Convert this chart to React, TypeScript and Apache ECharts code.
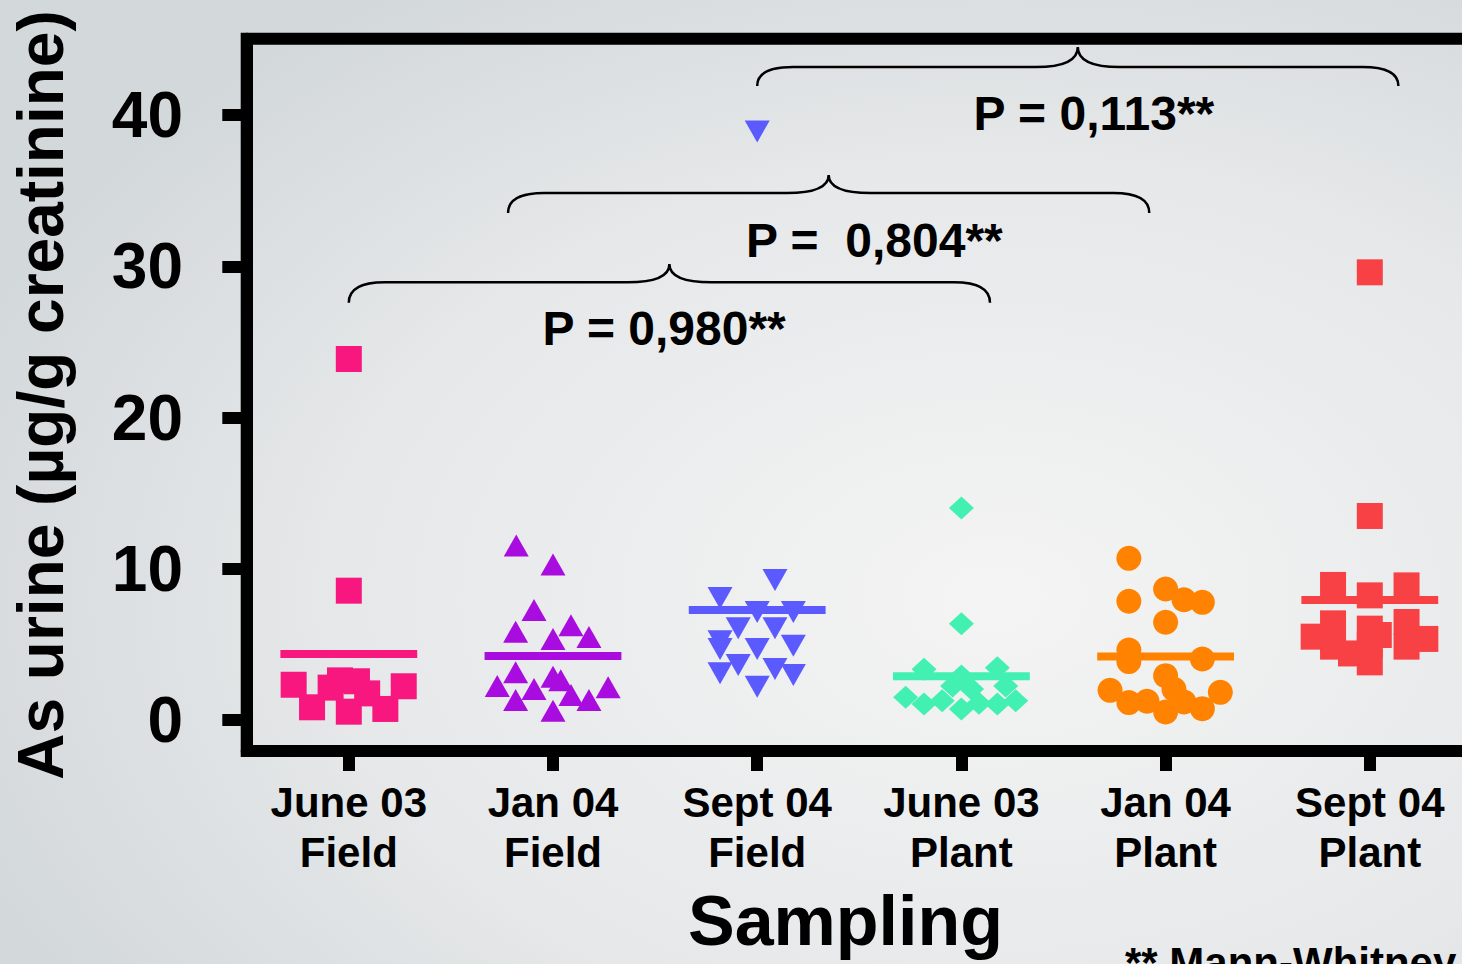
import { useEffect, useRef } from 'react';
import * as echarts from 'echarts';

// ---------- data ----------
const categories = ['June 03\nField', 'Jan 04\nField', 'Sept 04\nField', 'June 03\nPlant', 'Jan 04\nPlant', 'Sept 04\nPlant'];
const yTicks = [0, 10, 20, 30, 40];

const colors = ['#F7177F', '#A90CDE', '#5A5AFF', '#42F0B2', '#FF8300', '#F84144'];
const symbols = ['rect', 'triangle', 'triangle', 'diamond', 'circle', 'rect'];

// horizontal jitter (category units) and values (µg/g creatinine)
const juneFieldOffsets = [0, 0, -0.27, -0.18, -0.089, -0.043, 0.04, 0.09, 0, 0.179, 0.269];
const juneFieldValues = [23.87, 8.55, 2.33, 0.84, 2.14, 2.62, 2.56, 1.76, 0.55, 0.73, 2.23];

const janFieldOffsets = [-0.18, 0, -0.093, -0.183, 0.088, 0, 0.176, -0.183, -0.273, 0, 0.038, -0.093, 0.27, -0.183, 0.088, 0.176, 0];
const janFieldValues = [11.54, 10.28, 7.27, 5.84, 6.26, 5.36, 5.49, 3.15, 2.25, 2.86, 2.62, 2.05, 2.16, 1.32, 1.65, 1.32, 0.61];

const septFieldOffsets = [0, 0.087, -0.182, 0, 0.177, -0.093, 0.087, -0.182, -0.182, 0, 0.177, -0.093, 0.087, -0.182, 0.177, 0];
const septFieldValues = [38.91, 9.26, 8.07, 7.14, 7.14, 6.06, 6.06, 5.2, 4.69, 4.69, 4.91, 3.64, 3.37, 3.09, 2.98, 2.2];

const junePlantOffsets = [0, 0, -0.183, 0.176, 0, -0.043, 0.05, 0.217, -0.273, -0.183, -0.094, 0, 0.086, 0.176, 0.266];
const junePlantValues = [14.02, 6.37, 3.35, 3.46, 2.91, 2.25, 2.05, 2.25, 1.5, 1.06, 1.28, 0.73, 1.1, 1.06, 1.28];

const janPlantOffsets = [-0.18, -0.18, 0, 0.09, 0.18, 0, -0.18, -0.18, 0.18, 0, -0.272, 0.041, 0.268, -0.18, -0.091, 0.09, 0, 0.18];
const janPlantValues = [10.69, 7.85, 8.66, 7.95, 7.78, 6.46, 4.63, 3.86, 4.03, 2.93, 1.96, 2.03, 1.83, 1.15, 1.24, 1.19, 0.53, 0.75];

const septPlantOffsets = [0, 0, -0.18, 0, 0.18, 0.18, 0, -0.18, -0.275, -0.18, 0.044, 0.272, 0.18, 0, 0, -0.092];
const septPlantValues = [29.6, 13.49, 8.93, 8.24, 8.9, 6.48, 6.04, 6.39, 5.51, 4.85, 5.62, 5.36, 4.85, 3.81, 4.96, 4.4];

const groupMeans = [4.37, 4.23, 7.28, 2.9, 4.19, 7.94];

// comparison braces (x in category units, y in axis units)
const braceX0 = [0, 0.78, 2.0];
const braceX1 = [3.14, 3.92, 5.14];
const braceXm = [1.57, 2.35, 3.57];
const braceYEnd = [27.59, 33.52, 41.92];
const braceYH = [28.94, 34.84, 43.17];
const braceYTip = [30.15, 36.03, 44.5];

const pTexts = ['P = 0,980**', 'P =  0,804**', 'P = 0,113**'];
const pTextX = [1.544, 2.574, 3.649];
const pTextY = [25.87, 31.71, 40.1];

const groupOffsets = [juneFieldOffsets, janFieldOffsets, septFieldOffsets, junePlantOffsets, janPlantOffsets, septPlantOffsets];
const groupValues = [juneFieldValues, janFieldValues, septFieldValues, junePlantValues, janPlantValues, septPlantValues];
const symbolSizes: any[] = [26, [25, 22], [25, 22], [25, 23], 25, 26];
const symbolRotates = [0, 0, 180, 0, 0, 0];

const FONT = '"Liberation Sans", Arial, Helvetica, sans-serif';

function buildOption(): any {
  const scatterSeries = groupValues.map((vals, gi) => ({
    type: 'scatter',
    xAxisIndex: 1,
    yAxisIndex: 0,
    symbol: symbols[gi],
    symbolSize: symbolSizes[gi],
    symbolRotate: symbolRotates[gi],
    itemStyle: { color: colors[gi], opacity: 1 },
    data: vals.map((v, i) => [gi + groupOffsets[gi][i], v]),
    z: 3,
  }));

  const meanSeries = {
    type: 'custom',
    xAxisIndex: 1,
    yAxisIndex: 0,
    z: 4,
    data: groupMeans.map((m, i) => [i, m]),
    renderItem: (params: any, api: any) => {
      const x = api.value(0);
      const y = api.value(1);
      const a = api.coord([x - 0.335, y]);
      const b = api.coord([x + 0.335, y]);
      return {
        type: 'line',
        shape: { x1: a[0], y1: a[1], x2: b[0], y2: b[1] },
        style: { stroke: colors[params.dataIndex], lineWidth: 8 },
      };
    },
  };

  const braceSeries = {
    type: 'custom',
    xAxisIndex: 1,
    yAxisIndex: 0,
    z: 5,
    encode: { x: [0, 1, 2], y: [3, 4, 5] },
    data: braceX0.map((x0, i) => [x0, braceX1[i], braceXm[i], braceYEnd[i], braceYH[i], braceYTip[i]]),
    renderItem: (params: any, api: any) => {
      const p0 = api.coord([api.value(0), api.value(3)]);
      const p1 = api.coord([api.value(1), api.value(3)]);
      const pm = api.coord([api.value(2), api.value(5)]);
      const yh = api.coord([api.value(2), api.value(4)])[1];
      const w1 = 36;
      const w2 = 42;
      const d =
        `M${p0[0]},${p0[1]} Q${p0[0]},${yh} ${p0[0] + w1},${yh} ` +
        `L${pm[0] - w2},${yh} Q${pm[0]},${yh} ${pm[0]},${pm[1]} ` +
        `Q${pm[0]},${yh} ${pm[0] + w2},${yh} ` +
        `L${p1[0] - w1},${yh} Q${p1[0]},${yh} ${p1[0]},${p1[1]}`;
      return {
        type: 'path',
        shape: { pathData: d },
        style: { fill: 'none', stroke: '#000', lineWidth: 2.5 },
      };
    },
  };

  const pLabelSeries = {
    type: 'custom',
    xAxisIndex: 1,
    yAxisIndex: 0,
    z: 5,
    data: pTextX.map((x, i) => [x, pTextY[i]]),
    renderItem: (params: any, api: any) => {
      const p = api.coord([api.value(0), api.value(1)]);
      return {
        type: 'text',
        x: p[0],
        y: p[1],
        style: {
          text: pTexts[params.dataIndex],
          fontSize: 48,
          fontWeight: 'bold',
          fontFamily: FONT,
          fill: '#000',
          align: 'center',
          verticalAlign: 'middle',
        },
      };
    },
  };

  return {
    animation: false,
    backgroundColor: {
      type: 'radial',
      x: 0.68,
      y: 0.62,
      r: 0.75,
      colorStops: [
        { offset: 0, color: '#f4f4f4' },
        { offset: 0.6, color: '#e6e8e9' },
        { offset: 1, color: '#d3d8db' },
      ],
    },
    textStyle: { fontFamily: FONT },
    grid: {
      left: 246.7,
      top: 38.8,
      width: 1225.2,
      height: 712.2,
      outerBoundsMode: 'none',
      containLabel: false,
      show: true,
      borderColor: '#000',
      borderWidth: 12,
      backgroundColor: 'transparent',
    },
    xAxis: [
      {
        type: 'category',
        data: categories,
        position: 'bottom',
        boundaryGap: true,
        axisLine: { show: true, onZero: false, lineStyle: { color: '#000', width: 12 } },
        axisTick: { show: true, alignWithLabel: true, length: 20, lineStyle: { color: '#000', width: 12 } },
        axisLabel: {
          show: true,
          interval: 0,
          margin: 26,
          fontSize: 42,
          fontWeight: 'bold',
          lineHeight: 50,
          color: '#000',
          fontFamily: FONT,
        },
        splitLine: { show: false },
      },
      {
        type: 'value',
        show: false,
        position: 'bottom',
        min: -0.5,
        max: 5.5,
        axisLine: { onZero: false },
        splitLine: { show: false },
      },
    ],
    yAxis: {
      type: 'value',
      position: 'left',
      min: -2.05,
      max: 45.04,
      axisLine: { show: true, onZero: false, lineStyle: { color: '#000', width: 12 } },
      axisTick: {
        show: true,
        length: 24.4,
        customValues: yTicks,
        lineStyle: { color: '#000', width: 12 },
      },
      axisLabel: {
        show: true,
        customValues: yTicks,
        margin: 63.7,
        fontSize: 64,
        fontWeight: 'bold',
        color: '#000',
        fontFamily: FONT,
        padding: [16, 0, 0, 0],
      },
      splitLine: { show: false },
    },
    graphic: [
      {
        type: 'text',
        x: 41,
        y: 395,
        rotation: Math.PI / 2,
        style: {
          text: 'As urine (µg/g creatinine)',
          fontSize: 64,
          fontWeight: 'bold',
          fontFamily: FONT,
          fill: '#000',
          align: 'center',
          verticalAlign: 'middle',
        },
      },
      {
        type: 'text',
        x: 845.5,
        y: 920.7,
        style: {
          text: 'Sampling',
          fontSize: 70,
          fontWeight: 'bold',
          fontFamily: FONT,
          fill: '#000',
          align: 'center',
          verticalAlign: 'middle',
        },
      },
      {
        type: 'text',
        x: 1125,
        y: 962.2,
        style: {
          text: '** Mann-Whitney',
          fontSize: 42,
          fontWeight: 'bold',
          fontFamily: FONT,
          fill: '#000',
          align: 'left',
          verticalAlign: 'middle',
        },
      },
    ],
    series: [meanSeries, ...scatterSeries, braceSeries, pLabelSeries],
  };
}

export default function App() {
  const ref = useRef<HTMLDivElement>(null);
  useEffect(() => {
    if (!ref.current) return;
    const chart = echarts.init(ref.current, null, { renderer: 'svg' });
    chart.setOption(buildOption());
    return () => chart.dispose();
  }, []);
  return (
    <div
      ref={ref}
      style={{ position: 'absolute', left: 0, top: 0, width: 1462, height: 964, overflow: 'hidden' }}
    />
  );
}
